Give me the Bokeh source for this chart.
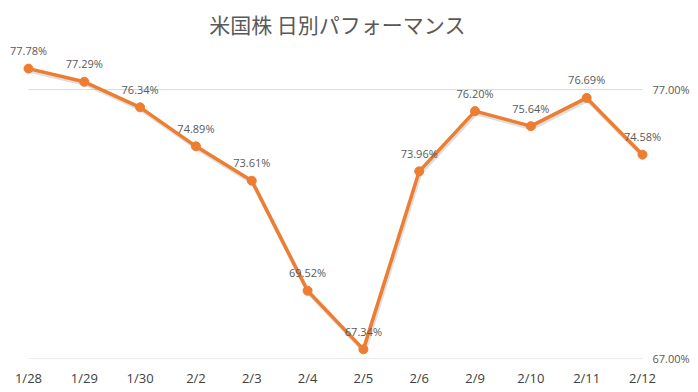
from bokeh.plotting import figure
from bokeh.models import FixedTicker, PrintfTickFormatter, ColumnDataSource, LabelSet
from bokeh.core.properties import value
from bokeh.embed import file_html
from bokeh.resources import INLINE

dates = ["1/28", "1/29", "1/30", "2/2", "2/3", "2/4", "2/5", "2/6", "2/9", "2/10", "2/11", "2/12"]
perf = [77.78, 77.29, 76.34, 74.89, 73.61, 69.52, 67.34, 73.96, 76.20, 75.64, 76.69, 74.58]
y_ticks = [67.0, 77.0]
title_text = "米国株 日別パフォーマンス"

ORANGE = "#ED7D31"
TEXT = "#595959"
NUM_FONT = "Open Sans"

x = list(range(len(dates)))
src = ColumnDataSource(dict(x=x, y=perf, label=[f"{v:.2f}%" for v in perf]))
shadow = ColumnDataSource(dict(x=[i + 0.02 for i in x], y=[v - 0.08 for v in perf]))
grid = ColumnDataSource(dict(x0=[x[0]] * len(y_ticks), x1=[x[-1]] * len(y_ticks),
                             y0=y_ticks, y1=y_ticks))

p = figure(frame_width=658, frame_height=320, output_backend="svg", toolbar_location=None,
           x_range=(-0.358, len(dates) - 1 + 0.43), y_range=(67, 78.9),
           y_axis_location="right",
           min_border_left=8, min_border_right=24, min_border_top=38, min_border_bottom=0)

p.title.text = title_text
p.title.align = "center"
p.title.text_font = "Noto Sans CJK JP"
p.title.text_font_size = "21px"
p.title.text_font_style = "normal"
p.title.text_color = TEXT
p.title.standoff = 0

p.outline_line_color = None
p.background_fill_color = "white"
p.border_fill_color = "white"

p.xgrid.visible = False
p.ygrid.visible = False
p.segment("x0", "y0", "x1", "y1", source=grid, line_color="#D9D9D9", line_width=1)

p.xaxis.ticker = FixedTicker(ticks=x)
p.xaxis.major_label_overrides = {i: d for i, d in zip(x, dates)}
p.xaxis.axis_line_color = None
p.xaxis.major_tick_line_color = None
p.xaxis.minor_tick_line_color = None
p.xaxis.major_tick_out = 0
p.xaxis.major_tick_in = 0
p.xaxis.major_label_standoff = 10
p.xaxis.major_label_text_font = NUM_FONT
p.xaxis.major_label_text_font_size = "13px"
p.xaxis.major_label_text_color = "#404040"

p.yaxis.ticker = FixedTicker(ticks=y_ticks)
p.yaxis.formatter = PrintfTickFormatter(format="%.2f%%")
p.yaxis.axis_line_color = None
p.yaxis.major_tick_line_color = None
p.yaxis.minor_tick_line_color = None
p.yaxis.major_tick_out = 0
p.yaxis.major_tick_in = 0
p.yaxis.major_label_standoff = -14
p.yaxis.major_label_text_font = NUM_FONT
p.yaxis.major_label_text_font_size = "11px"
p.yaxis.major_label_text_color = TEXT

p.line("x", "y", source=shadow, line_color="#7f7f7f", line_alpha=0.25, line_width=4)
p.line("x", "y", source=src, line_color=ORANGE, line_width=3.5)
p.scatter("x", "y", source=src, size=9, fill_color=ORANGE, line_color=ORANGE)

labels = LabelSet(x="x", y="y", text="label", source=src, text_align="center",
                  text_baseline="middle", y_offset=18, text_font=value(NUM_FONT),
                  text_font_size=value("11px"), text_color=TEXT)
p.add_layout(labels)

open("out.html", "w").write(file_html(p, INLINE))
